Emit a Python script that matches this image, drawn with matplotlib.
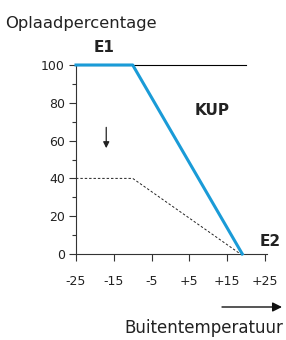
import matplotlib.pyplot as plt
import numpy as np

plt.rcParams['font.family'] = ['DejaVu Sans']

# data
temp_kup = [-25, -10, 19]
pct_kup = [100, 100, 0]
temp_min = [-25, -10, 18.5]
pct_min = [40, 40, 0]
x_ticks = [-25, -15, -5, 5, 15, 25]
x_labels = ['-25', '-15', '-5', '+5', '+15', '+25']
y_ticks = [0, 20, 40, 60, 80, 100]

W, H = 286, 340
fig = plt.figure(figsize=(W / 100, H / 100), dpi=100)
ax = fig.add_axes([76 / W, 1 - 254 / H, (265 - 76) / W, (254 - 65) / H])

axcol = '#333333'
ax.set_xlim(-25, 25)
ax.set_ylim(0, 100)
ax.spines['top'].set_visible(False)
ax.spines['right'].set_visible(False)
for s in ['left', 'bottom']:
    ax.spines[s].set_color(axcol)
    ax.spines[s].set_linewidth(0.8)
ax.spines['bottom'].set_bounds(-25, 25.5)

ax.set_xticks(x_ticks)
ax.set_xticklabels(x_labels)
ax.set_yticks(y_ticks)
ax.set_yticks(np.arange(10, 100, 20), minor=True)
ax.tick_params(axis='both', which='major', length=5, width=0.8, color=axcol,
               labelsize=9, labelcolor='#222222', pad=3)
ax.tick_params(axis='y', which='minor', length=3, width=0.8, color=axcol)
ax.tick_params(axis='x', pad=10)

ax.plot([-25, 20], [100, 100], color='black', lw=0.8, clip_on=False, zorder=1)
ax.plot(temp_min, pct_min, color='#222222', lw=0.7, ls=(0, (2.5, 2)), clip_on=False)
ax.plot(temp_kup, pct_kup, color='#1a9bd7', lw=2.2, clip_on=False, zorder=3)

ax.annotate('', xy=(-17, 56), xytext=(-17, 67),
            arrowprops=dict(arrowstyle='-|>', color='#222222', lw=0.9,
                            mutation_scale=9, shrinkA=0, shrinkB=0))

ax.text(-17.6, 109, 'E1', fontsize=11, fontweight='bold', ha='center', va='center',
        color='#222222')
ax.text(11, 76, 'KUP', fontsize=11, fontweight='bold', ha='center', va='center',
        color='#222222')
ax.text(26.5, 6.5, 'E2', fontsize=11, fontweight='bold', ha='center', va='center',
        color='#222222')

fig.text(5 / W, 1 - 28 / H, 'Oplaadpercentage', fontsize=11.8, color='#222222',
         ha='left', va='baseline')
fig.text(283 / W, 1 - 333 / H, 'Buitentemperatuur', fontsize=12, color='#222222',
         ha='right', va='baseline')
fig.patches.append(plt.matplotlib.patches.FancyArrowPatch(
    (222 / W, 1 - 307 / H), (282 / W, 1 - 307 / H), transform=fig.transFigure,
    arrowstyle='-|>', mutation_scale=14, color='#111111', lw=1.0,
    shrinkA=0, shrinkB=0))

fig.savefig('out.png', dpi=100)
